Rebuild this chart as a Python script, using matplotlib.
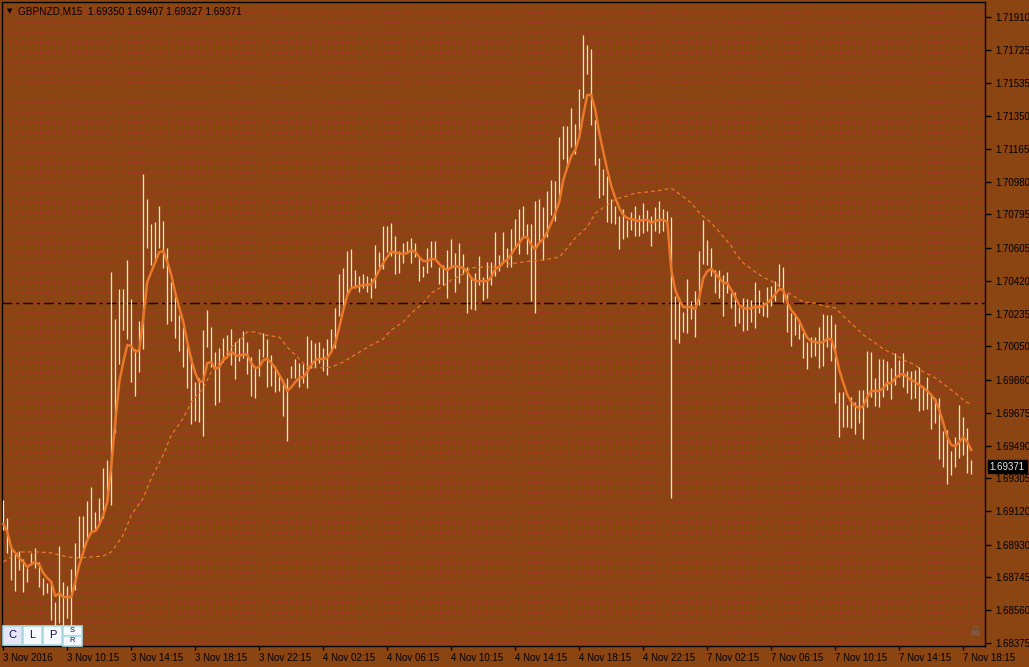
import matplotlib
matplotlib.use("Agg")
import matplotlib.pyplot as plt
from matplotlib.patches import Rectangle
import numpy as np

# ---- data (GBPNZD M15) ----
highs = [
    1.69183, 1.69081, 1.68917, 1.68883, 1.68894, 1.68849, 1.68799, 1.68883, 1.68912, 1.68833,
    1.68742, 1.68714, 1.68725, 1.68607, 1.68923, 1.68720, 1.68697, 1.68793, 1.68940, 1.69092,
    1.69092, 1.69177, 1.69255, 1.69115, 1.69194, 1.69363, 1.69408, 1.70470, 1.70204, 1.70374,
    1.70374, 1.70538, 1.70317, 1.70035, 1.70193, 1.71023, 1.70882, 1.70741, 1.70753, 1.70843,
    1.70758, 1.70606, 1.70414, 1.70357, 1.70227, 1.70159, 1.70063, 1.69996, 1.69849, 1.69872,
    1.70143, 1.70255, 1.70159, 1.70019, 1.70041, 1.70098, 1.70115, 1.70148, 1.70075, 1.70098,
    1.70137, 1.70075, 1.69990, 1.69928, 1.70035, 1.70126, 1.70092, 1.70002, 1.69939, 1.69889,
    1.69860, 1.69872, 1.69939, 1.69979, 1.69956, 1.69950, 1.70109, 1.70086, 1.70069, 1.70075,
    1.70041, 1.70092, 1.70148, 1.70267, 1.70458, 1.70493, 1.70588, 1.70600, 1.70481, 1.70447,
    1.70458, 1.70447, 1.70436, 1.70623, 1.70583, 1.70730, 1.70730, 1.70747, 1.70673, 1.70588,
    1.70634, 1.70645, 1.70662, 1.70634, 1.70554, 1.70504, 1.70606, 1.70645, 1.70645, 1.70498,
    1.70510, 1.70594, 1.70656, 1.70577, 1.70634, 1.70571, 1.70498, 1.70441, 1.70464, 1.70560,
    1.70441, 1.70527, 1.70527, 1.70696, 1.70566, 1.70696, 1.70606, 1.70713, 1.70769, 1.70826,
    1.70843, 1.70741, 1.70741, 1.70871, 1.70882, 1.70837, 1.70927, 1.70990, 1.70984, 1.71232,
    1.71294, 1.71294, 1.71396, 1.71305, 1.71503, 1.71809, 1.71752, 1.71729, 1.71328, 1.71114,
    1.71051, 1.71012, 1.70882, 1.70843, 1.70786, 1.70826, 1.70764, 1.70809, 1.70843, 1.70792,
    1.70860, 1.70820, 1.70786, 1.70837, 1.70871, 1.70826, 1.70814, 1.70780, 1.70334, 1.70328,
    1.70244, 1.70430, 1.70306, 1.70362, 1.70588, 1.70764, 1.70651, 1.70606, 1.70481, 1.70481,
    1.70453, 1.70470, 1.70351, 1.70357, 1.70272, 1.70323, 1.70317, 1.70312, 1.70414, 1.70368,
    1.70301, 1.70385, 1.70391, 1.70419, 1.70515, 1.70498, 1.70345, 1.70238, 1.70227, 1.70199,
    1.70126, 1.70075, 1.70103, 1.70103, 1.70159, 1.70232, 1.70227, 1.70227, 1.70176, 1.69793,
    1.69793, 1.69719, 1.69764, 1.69736, 1.69804, 1.69804, 1.70024, 1.70019, 1.69872, 1.69979,
    1.69979, 1.69967, 1.69928, 1.70013, 1.69973, 1.70013, 1.69911, 1.69911, 1.69917, 1.69933,
    1.69826, 1.69877, 1.69781, 1.69759, 1.69759, 1.69572, 1.69578, 1.69459, 1.69538, 1.69719,
    1.69651, 1.69589, 1.69407,
]
lows = [
    1.69013, 1.68883, 1.68731, 1.68668, 1.68787, 1.68663, 1.68720, 1.68816, 1.68799, 1.68691,
    1.68646, 1.68657, 1.68505, 1.68448, 1.68488, 1.68460, 1.68516, 1.68465, 1.68674, 1.68855,
    1.68900, 1.68968, 1.68996, 1.69007, 1.69042, 1.69081, 1.69183, 1.69155, 1.69561, 1.69950,
    1.70143, 1.70092, 1.69849, 1.69770, 1.69906, 1.70035, 1.70606, 1.70510, 1.70527, 1.70606,
    1.70493, 1.70176, 1.70193, 1.70098, 1.70024, 1.69933, 1.69815, 1.69611, 1.69628, 1.69623,
    1.69544, 1.70046, 1.69933, 1.69719, 1.69736, 1.69962, 1.70002, 1.69945, 1.69866, 1.69967,
    1.69985, 1.69894, 1.69770, 1.69759, 1.69883, 1.69990, 1.69820, 1.69826, 1.69793, 1.69798,
    1.69657, 1.69515, 1.69872, 1.69872, 1.69820, 1.69843, 1.69815, 1.69928, 1.69933, 1.69956,
    1.69911, 1.69889, 1.70030, 1.70041, 1.70221, 1.70255, 1.70340, 1.70385, 1.70380, 1.70357,
    1.70380, 1.70357, 1.70323, 1.70380, 1.70498, 1.70487, 1.70583, 1.70560, 1.70458, 1.70464,
    1.70521, 1.70577, 1.70521, 1.70554, 1.70419, 1.70441, 1.70464, 1.70498, 1.70538, 1.70402,
    1.70397, 1.70323, 1.70493, 1.70357, 1.70408, 1.70458, 1.70238, 1.70261, 1.70255, 1.70397,
    1.70312, 1.70323, 1.70397, 1.70447, 1.70475, 1.70521, 1.70498, 1.70498, 1.70611, 1.70571,
    1.70662, 1.70571, 1.70306, 1.70238, 1.70640, 1.70538, 1.70667, 1.70792, 1.70758, 1.70866,
    1.71108, 1.71062, 1.71175, 1.71136, 1.71232, 1.71453, 1.71588, 1.71300, 1.71074, 1.70888,
    1.70905, 1.70753, 1.70747, 1.70741, 1.70600, 1.70656, 1.70667, 1.70707, 1.70673, 1.70673,
    1.70690, 1.70701, 1.70617, 1.70701, 1.70690, 1.70701, 1.70747, 1.69194, 1.70092, 1.70069,
    1.70132, 1.70126, 1.70204, 1.70103, 1.70284, 1.70515, 1.70510, 1.70447, 1.70351, 1.70323,
    1.70221, 1.70351, 1.70267, 1.70165, 1.70182, 1.70137, 1.70143, 1.70188, 1.70154, 1.70238,
    1.70221, 1.70215, 1.70278, 1.70306, 1.70385, 1.70301, 1.70132, 1.70052, 1.70115, 1.70092,
    1.69985, 1.69922, 1.69990, 1.69996, 1.69928, 1.69939, 1.70046, 1.69967, 1.69730, 1.69538,
    1.69594, 1.69594, 1.69589, 1.69555, 1.69617, 1.69527, 1.69707, 1.69764, 1.69713, 1.69707,
    1.69764, 1.69804, 1.69753, 1.69832, 1.69877, 1.69820, 1.69787, 1.69753, 1.69759, 1.69685,
    1.69691, 1.69696, 1.69583, 1.69617, 1.69414, 1.69368, 1.69272, 1.69324, 1.69368, 1.69420,
    1.69437, 1.69335, 1.69327,
]
# fast moving average (solid line), one value per bar
ma_fast = [
    1.69047, 1.69002, 1.68912, 1.68883, 1.68855, 1.68833, 1.68804, 1.68821, 1.68833, 1.68816,
    1.68770, 1.68742, 1.68720, 1.68640, 1.68657, 1.68634, 1.68634, 1.68634, 1.68720, 1.68816,
    1.68889, 1.68957, 1.69002, 1.69007, 1.69042, 1.69098, 1.69172, 1.69380, 1.69623, 1.69849,
    1.69962, 1.70058, 1.70052, 1.70019, 1.70030, 1.70210, 1.70414, 1.70470, 1.70527, 1.70583,
    1.70588, 1.70527, 1.70453, 1.70351, 1.70267, 1.70188, 1.70075, 1.69973, 1.69900, 1.69849,
    1.69855, 1.69956, 1.69962, 1.69922, 1.69933, 1.69973, 1.69990, 1.70019, 1.70002, 1.69996,
    1.70007, 1.70002, 1.69956, 1.69928, 1.69933, 1.69973, 1.69979, 1.69956, 1.69928, 1.69889,
    1.69849, 1.69798, 1.69820, 1.69849, 1.69872, 1.69877, 1.69906, 1.69945, 1.69973, 1.69979,
    1.69979, 1.69985, 1.70019, 1.70069, 1.70159, 1.70255, 1.70340, 1.70380, 1.70385, 1.70391,
    1.70397, 1.70397, 1.70402, 1.70436, 1.70481, 1.70521, 1.70554, 1.70588, 1.70577, 1.70577,
    1.70571, 1.70577, 1.70594, 1.70583, 1.70554, 1.70532, 1.70532, 1.70543, 1.70543, 1.70515,
    1.70493, 1.70481, 1.70498, 1.70504, 1.70498, 1.70493, 1.70470, 1.70436, 1.70419, 1.70419,
    1.70419, 1.70419, 1.70441, 1.70487, 1.70498, 1.70527, 1.70538, 1.70571, 1.70606, 1.70634,
    1.70667, 1.70667, 1.70623, 1.70600, 1.70634, 1.70656, 1.70696, 1.70747, 1.70803, 1.70866,
    1.70990, 1.71062, 1.71125, 1.71159, 1.71232, 1.71357, 1.71470, 1.71470, 1.71385, 1.71255,
    1.71148, 1.71046, 1.70956, 1.70888, 1.70832, 1.70792, 1.70775, 1.70769, 1.70764, 1.70758,
    1.70764, 1.70764, 1.70747, 1.70758, 1.70764, 1.70764, 1.70753, 1.70481, 1.70368, 1.70312,
    1.70272, 1.70272, 1.70272, 1.70261, 1.70328, 1.70436, 1.70475, 1.70487, 1.70464, 1.70436,
    1.70408, 1.70408, 1.70368, 1.70328, 1.70284, 1.70267, 1.70261, 1.70267, 1.70272, 1.70272,
    1.70278, 1.70295, 1.70317, 1.70345, 1.70374, 1.70368, 1.70301, 1.70255, 1.70227, 1.70193,
    1.70143, 1.70098, 1.70080, 1.70075, 1.70069, 1.70075, 1.70092, 1.70092, 1.70019, 1.69917,
    1.69843, 1.69776, 1.69736, 1.69713, 1.69702, 1.69713, 1.69764, 1.69798, 1.69798, 1.69798,
    1.69815, 1.69843, 1.69843, 1.69872, 1.69889, 1.69894, 1.69877, 1.69860, 1.69849, 1.69832,
    1.69815, 1.69798, 1.69776, 1.69747, 1.69691, 1.69617, 1.69538, 1.69493, 1.69487, 1.69510,
    1.69538, 1.69510, 1.69465,
]
# slow moving average (dashed line), sampled at these bars
ma_slow_bar = [
    0, 4, 9, 12, 16, 19, 22, 25, 27, 30, 32, 35, 37, 40, 42, 45, 47, 50, 52, 55,
    57, 60, 61, 63, 65, 69, 71, 74, 76, 79, 82, 85, 87, 90, 92, 95, 97, 100, 102, 105,
    107, 110, 112, 115, 117, 120, 122, 125, 128, 132, 135, 139, 141, 143, 146, 148, 151, 153, 156, 158,
    161, 163, 166, 167, 169, 172, 174, 177, 179, 182, 183, 185, 188, 190, 193, 195, 198, 200, 203, 205,
    208, 210, 213, 215, 218, 220, 223, 225, 228, 230, 233, 235, 238, 240, 242,
]
ma_slow = [
    1.68833, 1.68889, 1.68889, 1.68883, 1.68861, 1.68855, 1.68861, 1.68866, 1.68889, 1.68985,
    1.69098, 1.69194, 1.69306, 1.69437, 1.69550, 1.69645, 1.69736, 1.69815, 1.69906, 1.69985,
    1.70046, 1.70103, 1.70132, 1.70132, 1.70115, 1.70103, 1.70046, 1.69979, 1.69933, 1.69928,
    1.69933, 1.69962, 1.69990, 1.70030, 1.70058, 1.70092, 1.70143, 1.70188, 1.70238, 1.70295,
    1.70351, 1.70391, 1.70425, 1.70458, 1.70493, 1.70498, 1.70498, 1.70510, 1.70521, 1.70532,
    1.70538, 1.70554, 1.70606, 1.70662, 1.70724, 1.70803, 1.70848, 1.70882, 1.70899, 1.70916,
    1.70922, 1.70927, 1.70939, 1.70944, 1.70911, 1.70860, 1.70803, 1.70747, 1.70696, 1.70617,
    1.70577, 1.70521, 1.70470, 1.70441, 1.70408, 1.70368, 1.70328, 1.70301, 1.70295, 1.70278,
    1.70267, 1.70221, 1.70159, 1.70115, 1.70069, 1.70035, 1.70002, 1.69973, 1.69945, 1.69906,
    1.69872, 1.69838, 1.69787, 1.69747, 1.69719,
]
price_levels = [1.71187, 1.69400, 1.68510]   # solid horizontal lines
dashdot_level = 1.70297
last_price = 1.69371

y_ticks = [1.71910, 1.71725, 1.71535, 1.71350, 1.71165, 1.70980, 1.70795, 1.70605,
           1.70420, 1.70235, 1.70050, 1.69860, 1.69675, 1.69490, 1.69305, 1.69120,
           1.68930, 1.68745, 1.68560, 1.68375]
x_tick_bars = [0, 16, 32, 48, 64, 80, 96, 112, 128, 144, 160, 176, 192, 208, 224, 240]
x_tick_labels = ["3 Nov 2016", "3 Nov 10:15", "3 Nov 14:15", "3 Nov 18:15", "3 Nov 22:15",
                 "4 Nov 02:15", "4 Nov 06:15", "4 Nov 10:15", "4 Nov 14:15", "4 Nov 18:15",
                 "4 Nov 22:15", "7 Nov 02:15", "7 Nov 06:15", "7 Nov 10:15", "7 Nov 14:15",
                 "7 Nov 18:15"]
title = "GBPNZD,M15  1.69350 1.69407 1.69327 1.69371"

# ---- styling ----
BG = "#8B4513"
BAR = "#FFE9BC"
MA = "#E8782A"
GRID = "#A8302A"

W, H = 1029, 667
plt.rcParams["font.family"] = ["Liberation Sans", "DejaVu Sans"]

fig = plt.figure(figsize=(W / 100, H / 100), dpi=100, facecolor=BG)
ax_l, ax_r, ax_t, ax_b = 2, 985.5, 2, 646
ax = fig.add_axes([ax_l / W, 1 - ax_b / H, (ax_r - ax_l) / W, (ax_b - ax_t) / H])
ax.set_facecolor(BG)

px_per_bar = 4.0
x_first = 3.3
ax.set_xlim((ax_l - x_first) / px_per_bar, (ax_r - x_first) / px_per_bar)
price_per_px = 0.00005647
y_top_price = 1.72006
ax.set_ylim(y_top_price - ax_b * price_per_px, y_top_price - ax_t * price_per_px)

# background grid: fine dashed lines every 10 px (placed on pixel centres)
grid_levels = y_top_price - (1.5 + np.arange(0, 65) * 10) * price_per_px
x0, x1 = ax.get_xlim()
ax.hlines(grid_levels, x0, x1, colors=GRID, lw=0.75, linestyles=(0, (3, 3)), zorder=1)
ax.hlines(price_levels, x0, x1, colors=GRID, lw=0.75, zorder=1)
ax.axhline(dashdot_level, color="black", lw=1.0, ls=(0, (7, 3, 2, 3)), zorder=2)

idx = np.arange(len(highs))
ax.vlines(idx, lows, highs, color=BAR, lw=0.9, zorder=3)
ax.plot(ma_slow_bar, ma_slow, color=MA, lw=0.9, ls=(0, (3, 2.5)), zorder=4)
ax.plot(idx, ma_fast, color=MA, lw=1.8, zorder=5)

for s in ax.spines.values():
    s.set_color("black")
    s.set_linewidth(1.0)

ax.yaxis.tick_right()
ax.set_yticks(y_ticks)
ax.set_yticklabels([f"{v:.5f}" for v in y_ticks])
ax.tick_params(axis="y", direction="out", length=4, width=1, pad=3,
               labelsize=7, colors="black")
ax.set_xticks(x_tick_bars)
ax.set_xticklabels(x_tick_labels)
ax.tick_params(axis="x", direction="out", length=3, width=1, pad=2,
               labelsize=7, colors="black")
for lbl in ax.get_xticklabels():
    lbl.set_horizontalalignment("left")

# current price marker on the price scale
ax.annotate(f"{last_price:.5f}", xy=(1.0, last_price), xycoords=("axes fraction", "data"),
            xytext=(3, 0), textcoords="offset points", va="center", ha="left",
            fontsize=7, color="#E8E8E8",
            bbox=dict(boxstyle="square,pad=0.18", fc="black", ec="black"))


def fx(x):
    return x / W


def fy(y):
    return 1 - y / H


# title
fig.text(fx(6.5), fy(11), "\u25BC", fontsize=5, color="black", va="center", ha="left",
         family="DejaVu Sans")
fig.text(fx(18), fy(11), title, fontsize=7.2, color="black", va="center", ha="left")

# C / L / P / S-R buttons
for bx, lab, fc in [(3, "C", "#E6E6F8"), (23, "L", "#F6FAFF"), (43, "P", "#F6FAFF")]:
    fig.add_artist(Rectangle((fx(bx), fy(645)), 19 / W, 19 / H, transform=fig.transFigure,
                             fc=fc, ec="#A8DCE6", lw=1.2, zorder=10))
    fig.text(fx(bx + 9.5), fy(635.5), lab, fontsize=8, color="#101040", ha="center",
             va="center", zorder=11)
for by, lab in [(626, "S"), (636, "R")]:
    fig.add_artist(Rectangle((fx(63), fy(by + 9.5)), 19 / W, 9.5 / H, transform=fig.transFigure,
                             fc="#F6FAFF", ec="#A8DCE6", lw=1.2, zorder=10))
    fig.text(fx(72.5), fy(by + 4.8), lab, fontsize=5.5, color="#101040", ha="center",
             va="center", zorder=11)

fig.text(fx(975), fy(632), "\u2620", fontsize=9, color="#707070", ha="center", va="center",
         family="DejaVu Sans")

fig.savefig("out.png", dpi=100, facecolor=BG)
